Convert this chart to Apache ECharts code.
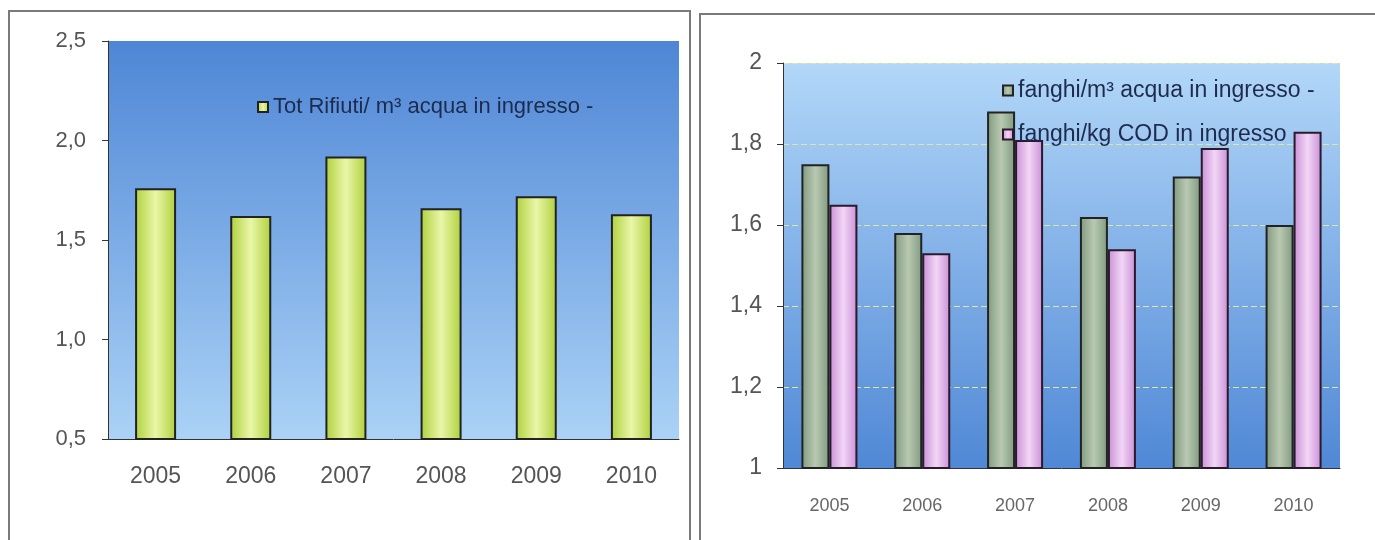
<!DOCTYPE html>
<html lang="it">
<head>
  <meta charset="UTF-8">
  <title>Rifiuti e fanghi</title>
  <script src="https://cdn.jsdelivr.net/npm/echarts@6.0.0/dist/echarts.min.js"></script>
  <style>
    body { margin: 0; background: #fff; }
  </style>
</head>
<body>
<div id="main" style="width: 1375px;height:540px;"></div>
<script type="text/javascript">

  // anni
  const years = ['2005', '2006', '2007', '2008', '2009', '2010'];
  // grafico sinistro
  const totRifiuti = [1.76, 1.62, 1.92, 1.66, 1.72, 1.63];
  // grafico destro
  const fanghiAcqua = [1.75, 1.58, 1.88, 1.62, 1.72, 1.60];
  const fanghiCOD = [1.65, 1.53, 1.81, 1.54, 1.79, 1.83];

  const LG = echarts.graphic.LinearGradient;
  const font = '"Liberation Sans", Arial, sans-serif';

  function barFill(edge, mid) {
    return new LG(0, 0, 1, 0, [
      {offset: 0, color: edge},
      {offset: 0.5, color: mid},
      {offset: 1, color: edge}
    ]);
  }

  const myChart = echarts.init(document.getElementById('main'));

  myChart.setOption({
    backgroundColor: '#ffffff',
    animation: false,
    // cornici dei due riquadri
    graphic: [
      {type: 'rect', shape: {x: 9, y: 11, width: 681, height: 540}, style: {fill: 'none', stroke: '#7a7a7a', lineWidth: 2}, z: -1},
      {type: 'rect', shape: {x: 700, y: 14, width: 690, height: 540}, style: {fill: 'none', stroke: '#7a7a7a', lineWidth: 2}, z: -1}
    ],
    grid: [
      {
        left: 108, top: 41, width: 571, height: 398,
        show: true, borderWidth: 0,
        backgroundColor: new LG(0, 0, 0, 1, [
          {offset: 0, color: '#4e86d6'},
          {offset: 1, color: '#abd2f6'}
        ])
      },
      {
        left: 783, top: 63, width: 557, height: 405,
        show: true, borderWidth: 0,
        backgroundColor: new LG(0, 0, 0, 1, [
          {offset: 0, color: '#b2d7f8'},
          {offset: 1, color: '#5088d6'}
        ])
      }
    ],
    legend: [
      {
        left: 252, top: 91, icon: 'rect',
        itemWidth: 10, itemHeight: 10,
        data: ['Tot Rifiuti/ m³ acqua in ingresso -'],
        textStyle: {fontFamily: font, fontSize: 22, color: '#1d2b4d'}
      },
      {
        left: 997, top: 74, orient: 'vertical', icon: 'rect',
        itemWidth: 10, itemHeight: 10, itemGap: 21,
        data: ['fanghi/m³ acqua in ingresso -', 'fanghi/kg COD in ingresso'],
        textStyle: {fontFamily: font, fontSize: 23, color: '#1d2b4d'}
      }
    ],
    xAxis: [
      {
        type: 'category', gridIndex: 0, data: years,
        axisLine: {lineStyle: {color: '#333', width: 1}},
        axisTick: {length: 7, lineStyle: {color: '#333'}},
        axisLabel: {margin: 26, fontFamily: font, fontSize: 23, color: '#555'}
      },
      {
        type: 'category', gridIndex: 1, data: years,
        axisLine: {lineStyle: {color: '#333', width: 1}},
        axisTick: {length: 7, lineStyle: {color: '#333'}},
        axisLabel: {margin: 29, fontFamily: font, fontSize: 18, color: '#666'}
      }
    ],
    yAxis: [
      {
        type: 'value', gridIndex: 0, min: 0.5, max: 2.5, interval: 0.5,
        axisLine: {show: true, lineStyle: {color: '#333'}},
        axisTick: {show: true, length: 6, lineStyle: {color: '#333'}},
        splitLine: {show: false},
        axisLabel: {
          margin: 22, fontFamily: font, fontSize: 22, color: '#555',
          formatter: v => v.toFixed(1).replace('.', ',')
        }
      },
      {
        type: 'value', gridIndex: 1, min: 1, max: 2, interval: 0.2,
        axisLine: {show: true, lineStyle: {color: '#333'}},
        axisTick: {show: true, length: 6, lineStyle: {color: '#333'}},
        splitLine: {show: true, lineStyle: {color: '#dfe89a', type: [6, 3], width: 1}},
        axisLabel: {
          margin: 21, fontFamily: font, fontSize: 23, color: '#555',
          formatter: v => (Math.abs(v - Math.round(v)) < 1e-9 ? String(Math.round(v)) : v.toFixed(1).replace('.', ','))
        }
      }
    ],
    series: [
      {
        name: 'Tot Rifiuti/ m³ acqua in ingresso -',
        type: 'bar', xAxisIndex: 0, yAxisIndex: 0,
        barWidth: 41,
        data: totRifiuti,
        itemStyle: {color: barFill('#aed03c', '#eaf6a8'), borderColor: '#222', borderWidth: 2}
      },
      {
        name: 'fanghi/m³ acqua in ingresso -',
        type: 'bar', xAxisIndex: 1, yAxisIndex: 1,
        barWidth: 28, barGap: '0%',
        data: fanghiAcqua,
        itemStyle: {color: barFill('#7f997f', '#b9c9b1'), borderColor: '#222', borderWidth: 2}
      },
      {
        name: 'fanghi/kg COD in ingresso',
        type: 'bar', xAxisIndex: 1, yAxisIndex: 1,
        barWidth: 28, barGap: '0%',
        data: fanghiCOD,
        itemStyle: {color: barFill('#c98ed6', '#f2d6f6'), borderColor: '#2a1a2a', borderWidth: 2}
      }
    ]
  });

</script>
</body>
</html>
